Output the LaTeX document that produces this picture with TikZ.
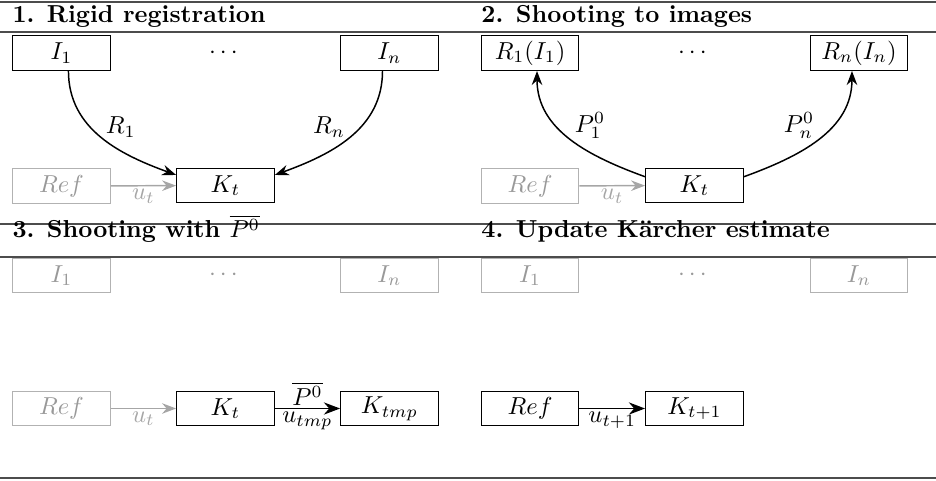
\documentclass[tikz,border=0pt]{standalone}
\usepackage{amsmath}
\usepackage{amssymb}
\usetikzlibrary{arrows.meta}
\tikzset{box/.style={draw,minimum width=1.4cm,minimum height=0.5cm,inner sep=2pt},
	faded/.style={draw=black!30,text=black!40},
	blank/.style={draw=none},
	rule/.style={draw=black!70,line width=0.6pt},
	title/.style={anchor=base west,font=\bfseries,inner sep=0pt}}

\begin{document}
\begin{tikzpicture}
		\useasboundingbox (0,0) rectangle (13.4,-6.872);
		% rules and titles
		\draw[rule] (0,-0.029) -- (13.4,-0.029);
		\draw[rule] (0,-0.458) -- (13.4,-0.458);
		\draw[rule] (0,-3.207) -- (13.4,-3.207);
		\draw[rule] (0,-3.679) -- (13.4,-3.679);
		\draw[rule] (0,-6.843) -- (13.4,-6.843);
		\node[title] (T1) at (0.172,-0.329) {1. Rigid registration};
		\node[title] (T2) at (6.886,-0.329) {2. Shooting to images};
		\node[title] (T3) at (0.172,-3.407) {3. Shooting with $\overline{P^0}$};
		\node[title] (T4) at (6.886,-3.407) {4. Update Kärcher estimate};
		\begin{scope}[every node/.style={box}]
			% panel 1
			\node (I1a) at (0.88,-0.759) {$I_1$};
			\node[blank] (Da) at (3.228,-0.759) {$\cdots$};
			\node (Ina) at (5.576,-0.759) {$I_n$};
			\node[faded] (Refa) at (0.88,-2.663) {$Ref$};
			\node (Kta) at (3.228,-2.655) {$K_t$};
			% panel 2
			\node (R1b) at (7.588,-0.759) {$R_1(I_1)$};
			\node[blank] (Db) at (9.942,-0.759) {$\cdots$};
			\node (Rnb) at (12.297,-0.759) {$R_n(I_n)$};
			\node[faded] (Refb) at (7.588,-2.663) {$Ref$};
			\node (Ktb) at (9.942,-2.655) {$K_t$};
			% panel 3
			\node[faded] (I1c) at (0.88,-3.944) {$I_1$};
			\node[blank,text=black!40] (Dc) at (3.228,-3.944) {$\cdots$};
			\node[faded] (Inc) at (5.576,-3.944) {$I_n$};
			\node[faded] (Refc) at (0.88,-5.848) {$Ref$};
			\node (Ktc) at (3.228,-5.848) {$K_t$};
			\node (Ktmpc) at (5.576,-5.848) {$K_{tmp}$};
			% panel 4
			\node[faded] (I1d) at (7.588,-3.944) {$I_1$};
			\node[blank,text=black!40] (Dd) at (9.942,-3.944) {$\cdots$};
			\node[faded] (Ind) at (12.297,-3.944) {$I_n$};
			\node (Refd) at (7.588,-5.848) {$Ref$};
			\node (Ktd) at (9.942,-5.848) {$K_{t+1}$};
		\end{scope}
		\begin{scope}[>={Stealth},
			every node/.style={inner sep=1pt},
			every edge/.style={draw,semithick}]
			\path [->] ([xshift=0.1cm]I1a.south) edge[out=-90,in=160] node[right,pos=0.4,inner sep=6pt] {$R_1$} (Kta.168);
			\path [->] ([xshift=-0.1cm]Ina.south) edge[out=-90,in=20] node[left,pos=0.4,inner sep=6pt] {$R_n$} (Kta.12);
			\path [->] (Refa) edge[draw=black!35] node[below,text=black!35] {$u_t$} (Kta);
			\path [->] (Ktb.170) edge[out=160,in=-90] node[right,pos=0.62,inner sep=7pt] {$P^0_1$} ([xshift=0.1cm]R1b.south);
			\path [->] (Ktb.10) edge[out=20,in=-90] node[left,pos=0.62,inner sep=7pt] {$P^0_n$} ([xshift=-0.1cm]Rnb.south);
			\path [->] (Refb) edge[draw=black!35] node[below,text=black!35] {$u_t$} (Ktb);
			\path [->] (Refc) edge[draw=black!35] node[below,text=black!35] {$u_t$} (Ktc);
			\path [->] (Ktc) edge[thick] node[above] {$\overline{P^0}$} node[below] {$u_{tmp}$} (Ktmpc);
			\path [->] (Refd) edge[thick] node[below] {$u_{t+1}$} (Ktd);
		\end{scope}
	\end{tikzpicture}
\end{document}
